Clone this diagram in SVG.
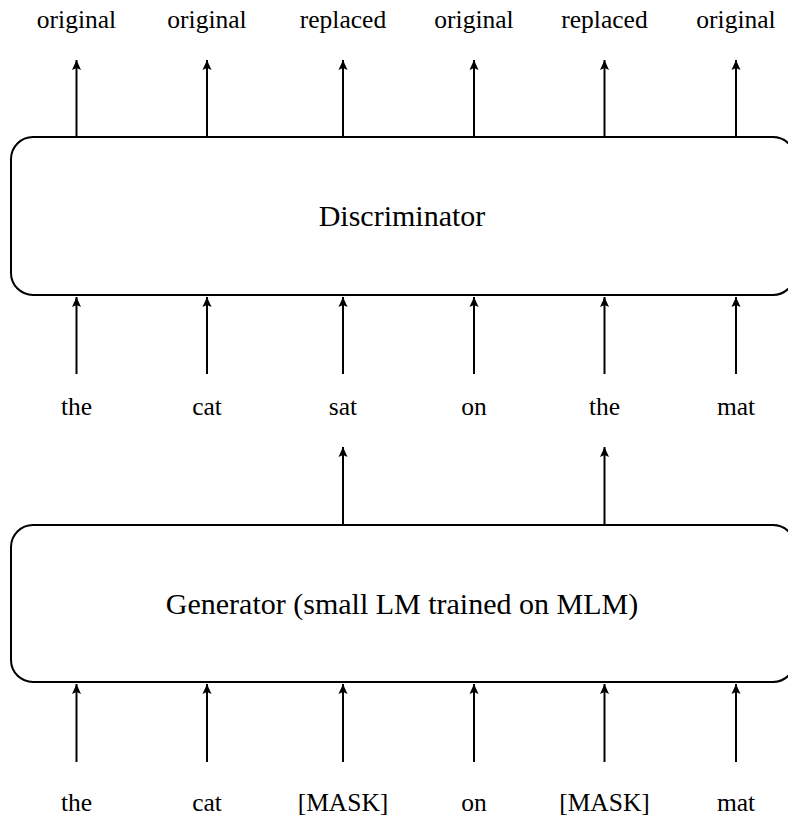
<svg xmlns="http://www.w3.org/2000/svg" width="788" height="818" viewBox="0 0 788 818">
<style>
.box{fill:#fff;stroke:#000;stroke-width:2}
.tok{font-size:25.5px;fill:#000;text-anchor:middle}
.lbl{font-size:30px;fill:#000;text-anchor:middle}
.conn line{stroke:#000;stroke-width:2;marker-end:url(#ah)}
</style>
<defs>
<marker id="ah" markerUnits="userSpaceOnUse" markerWidth="12" markerHeight="12" viewBox="0 0 12 12" refX="10" refY="6" orient="auto">
<path d="M0,1.5 L10,6 L0,10.5 L2,6 Z" fill="#000"/>
</marker>
</defs>
<rect width="788" height="818" fill="#fff"/>
<g font-family="Liberation Serif, DejaVu Serif, serif">
<g id="discriminator">
<rect class="box" x="11" y="137" width="784" height="158" rx="22" ry="22"/>
<text class="lbl" x="402" y="226">Discriminator</text>
</g>
<g id="generator">
<rect class="box" x="11" y="525" width="784" height="157" rx="22" ry="22"/>
<text class="lbl" x="402" y="614">Generator (small LM trained on MLM)</text>
</g>
<g id="out-labels">
<text class="tok" x="76.5" y="28">original</text>
<text class="tok" x="207" y="28">original</text>
<text class="tok" x="343" y="28">replaced</text>
<text class="tok" x="474" y="28">original</text>
<text class="tok" x="604.5" y="28">replaced</text>
<text class="tok" x="736" y="28">original</text>
</g>
<g id="mid-tokens">
<text class="tok" x="76.5" y="415">the</text>
<text class="tok" x="207" y="415">cat</text>
<text class="tok" x="343" y="415">sat</text>
<text class="tok" x="474" y="415">on</text>
<text class="tok" x="604.5" y="415">the</text>
<text class="tok" x="736" y="415">mat</text>
</g>
<g id="in-tokens">
<text class="tok" x="76.5" y="811">the</text>
<text class="tok" x="207" y="811">cat</text>
<text class="tok" x="343" y="811">[MASK]</text>
<text class="tok" x="474" y="811">on</text>
<text class="tok" x="604.5" y="811">[MASK]</text>
<text class="tok" x="736" y="811">mat</text>
</g>
</g>
<g id="connectors" class="conn">
<line x1="76.5" y1="137" x2="76.5" y2="60"/>
<line x1="207" y1="137" x2="207" y2="60"/>
<line x1="343" y1="137" x2="343" y2="60"/>
<line x1="474" y1="137" x2="474" y2="60"/>
<line x1="604.5" y1="137" x2="604.5" y2="60"/>
<line x1="736" y1="137" x2="736" y2="60"/>
<line x1="76.5" y1="374" x2="76.5" y2="297"/>
<line x1="207" y1="374" x2="207" y2="297"/>
<line x1="343" y1="374" x2="343" y2="297"/>
<line x1="474" y1="374" x2="474" y2="297"/>
<line x1="604.5" y1="374" x2="604.5" y2="297"/>
<line x1="736" y1="374" x2="736" y2="297"/>
<line x1="343" y1="525" x2="343" y2="447"/>
<line x1="604.5" y1="525" x2="604.5" y2="447"/>
<line x1="76.5" y1="762" x2="76.5" y2="684"/>
<line x1="207" y1="762" x2="207" y2="684"/>
<line x1="343" y1="762" x2="343" y2="684"/>
<line x1="474" y1="762" x2="474" y2="684"/>
<line x1="604.5" y1="762" x2="604.5" y2="684"/>
<line x1="736" y1="762" x2="736" y2="684"/>
</g>
</svg>
